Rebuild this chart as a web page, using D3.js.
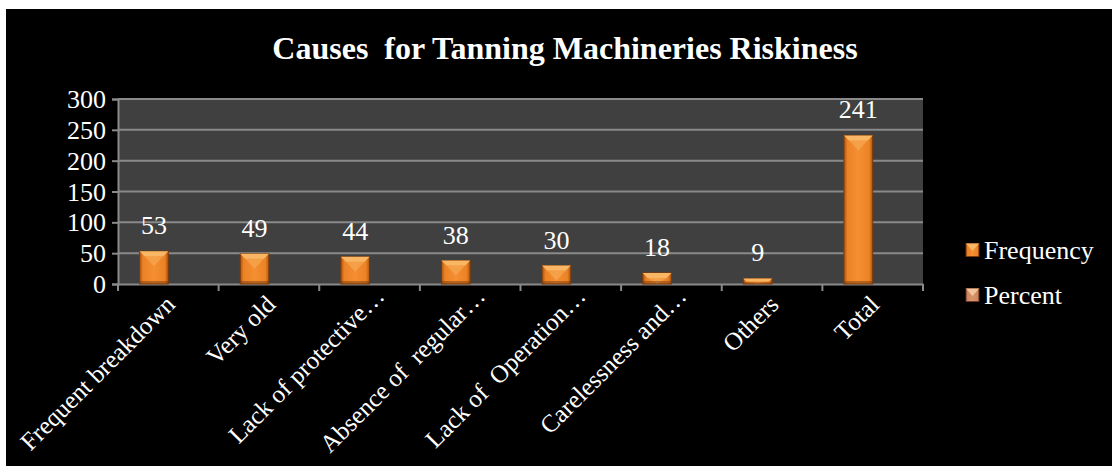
<!DOCTYPE html>
<html>
<head>
<meta charset="utf-8">
<script src="https://cdn.jsdelivr.net/npm/d3@7/dist/d3.min.js"></script>
<style>
  html, body { margin: 0; padding: 0; background: #ffffff; }
  svg text { font-family: "Liberation Serif", "Times New Roman", serif; white-space: pre; }
</style>
</head>
<body>
<svg id="chart" width="1112" height="468"></svg>
<script>
// Chart data
const categories = [
  "Frequent breakdown",
  "Very old",
  "Lack of protective\u2026",
  "Absence of  regular\u2026",
  "Lack of  Operation\u2026",
  "Carelessness and\u2026",
  "Others",
  "Total"
];
const frequency = [53, 49, 44, 38, 30, 18, 9, 241];
const percent = [null, null, null, null, null, null, null, null];
const seriesNames = ["Frequency", "Percent"];
const yTicks = [0, 50, 100, 150, 200, 250, 300];
const titleText = "Causes  for Tanning Machineries Riskiness";

const svg = d3.select("#chart");
const W = 1112, H = 468;

// black chart background inside a thin white margin
svg.append("rect").attr("x", 6).attr("y", 9).attr("width", W - 6).attr("height", H - 9 - 2).attr("fill", "#000");

const plot = { left: 118, right: 923, top: 99, bottom: 284 };

const x = d3.scaleBand().domain(categories).range([plot.left, plot.right]).paddingInner(0).paddingOuter(0);
const y = d3.scaleLinear().domain([0, 300]).range([plot.bottom, plot.top]);
// two series side-by-side, gap width 150% of a bar
const barW = x.bandwidth() / 3.5;
const xs = d3.scaleBand().domain(seriesNames).range([0.75 * barW, 2.75 * barW]).padding(0);

const defs = svg.append("defs");
function bevelGradient(id, dark, mid, light) {
  const g = defs.append("linearGradient").attr("id", id).attr("x1", "0").attr("x2", "1").attr("y1", "0").attr("y2", "0");
  g.append("stop").attr("offset", "0").attr("stop-color", dark);
  g.append("stop").attr("offset", "0.12").attr("stop-color", mid);
  g.append("stop").attr("offset", "0.5").attr("stop-color", light);
  g.append("stop").attr("offset", "0.88").attr("stop-color", mid);
  g.append("stop").attr("offset", "1").attr("stop-color", dark);
}
bevelGradient("gFreq", "#a9540f", "#ec8226", "#f48f32");
bevelGradient("gPct", "#9c5a3a", "#cf8862", "#d9946c");

// plot area
svg.append("rect").attr("x", plot.left).attr("y", plot.top)
  .attr("width", plot.right - plot.left).attr("height", plot.bottom - plot.top).attr("fill", "#404040");

// gridlines
svg.append("g").selectAll("line").data(yTicks.filter(d => d > 0)).join("line")
  .attr("x1", plot.left).attr("x2", plot.right)
  .attr("y1", d => y(d)).attr("y2", d => y(d))
  .attr("stroke", "#8a8a8a").attr("stroke-width", 2);

// y axis
const yAxis = svg.append("g").attr("transform", `translate(${plot.left},0)`)
  .call(d3.axisLeft(y).tickValues(yTicks).tickSize(6).tickPadding(6));
yAxis.attr("font-family", null);
yAxis.select(".domain").attr("stroke", "#8a8a8a").attr("stroke-width", 2);
yAxis.selectAll(".tick line").attr("stroke", "#8a8a8a").attr("stroke-width", 2);
yAxis.selectAll("text").attr("fill", "#fff").attr("font-size", 26).attr("dy", "0.33em");

// x axis
const xAxis = svg.append("g").attr("transform", `translate(0,${plot.bottom})`)
  .call(d3.axisBottom(x).tickSize(0).tickFormat(""));
xAxis.select(".domain").attr("stroke", "#8a8a8a").attr("stroke-width", 2);
const boundaries = categories.map(c => x(c)).concat([plot.right]);
svg.append("g").selectAll("line").data(boundaries).join("line")
  .attr("x1", d => d).attr("x2", d => d)
  .attr("y1", plot.bottom).attr("y2", plot.bottom + 7)
  .attr("stroke", "#8a8a8a").attr("stroke-width", 2);

// category labels, rotated; truncated labels sit a little further along
svg.append("g").selectAll("text").data(categories).join("text")
  .attr("transform", d => `translate(${x(d) + x.bandwidth() / 2 + 8},${plot.bottom + 22}) rotate(-45)`)
  .attr("dx", d => d.endsWith("\u2026") ? 12 : 0)
  .attr("text-anchor", "end")
  .attr("fill", "#fff").attr("font-size", 25)
  .text(d => d);

// bevelled bar
function drawBar(g, x0, w, yTop, yBot, grad, light, dark) {
  const h = yBot - yTop;
  if (h <= 0) return;
  g.append("rect").attr("x", x0).attr("y", yTop).attr("width", w).attr("height", h)
    .attr("fill", `url(#${grad})`).attr("stroke", dark).attr("stroke-width", 1);
  const b = Math.min(5, h / 2);
  // top bevel
  g.append("path")
    .attr("d", `M${x0},${yTop} L${x0 + w},${yTop} L${x0 + w - b},${yTop + b} L${x0 + b},${yTop + b} Z`)
    .attr("fill", light);
  // light wedge beneath top bevel
  const wedge = Math.min(10, h - b);
  if (wedge > 2) {
    g.append("path")
      .attr("d", `M${x0 + b},${yTop + b} L${x0 + w - b},${yTop + b} L${x0 + w / 2},${yTop + b + wedge} Z`)
      .attr("fill", light).attr("opacity", 0.45);
  }
  // bottom bevel
  g.append("rect").attr("x", x0).attr("y", yBot - Math.min(3, h / 3)).attr("width", w)
    .attr("height", Math.min(3, h / 3)).attr("fill", dark).attr("opacity", 0.5);
}

const bars = svg.append("g");
categories.forEach((c, i) => {
  const v = frequency[i];
  drawBar(bars, x(c) + xs("Frequency"), xs.bandwidth(), y(v), y(0), "gFreq", "#f9b765", "#7a3a0a");
  const p = percent[i];
  if (p != null) drawBar(bars, x(c) + xs("Percent"), xs.bandwidth(), y(p), y(0), "gPct", "#f3c49b", "#6e3a22");
});

// value labels
svg.append("g").selectAll("text").data(categories).join("text")
  .attr("x", d => x(d) + xs("Frequency") + xs.bandwidth() / 2)
  .attr("y", (d, i) => y(frequency[i]) - 17)
  .attr("text-anchor", "middle").attr("fill", "#fff").attr("font-size", 26)
  .text((d, i) => frequency[i]);

// title
svg.append("text").attr("x", 565).attr("y", 59).attr("text-anchor", "middle")
  .attr("fill", "#fff").attr("font-size", 32).attr("font-weight", "bold")
  .text(titleText);

// legend
const legendColors = { Frequency: ["gFreq", "#f9b765", "#7a3a0a"], Percent: ["gPct", "#f3c49b", "#6e3a22"] };
const legend = svg.append("g");
seriesNames.forEach((s, i) => {
  const ly = 250 + i * 45;
  const [grad, light, dark] = legendColors[s];
  const sz = 13;
  legend.append("rect").attr("x", 966).attr("y", ly - sz / 2).attr("width", sz).attr("height", sz)
    .attr("fill", `url(#${grad})`).attr("stroke", dark).attr("stroke-width", 0.8);
  legend.append("path")
    .attr("d", `M966,${ly - sz / 2} L${966 + sz},${ly - sz / 2} L${966 + sz / 2},${ly + 1} Z`)
    .attr("fill", light);
  legend.append("text").attr("x", 984).attr("y", ly + 9).attr("fill", "#fff").attr("font-size", 26).text(s);
});
</script>
</body>
</html>
